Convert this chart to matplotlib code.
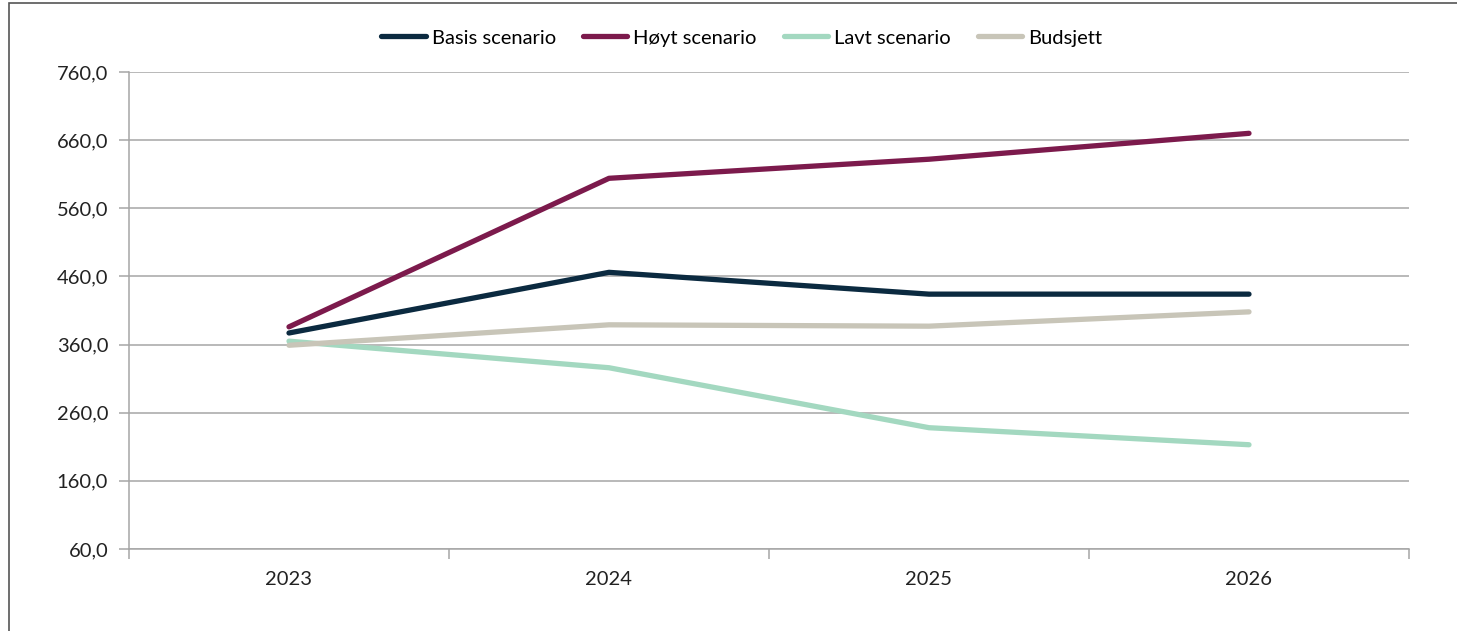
import matplotlib
matplotlib.use("Agg")
import matplotlib.pyplot as plt
from matplotlib.patches import Rectangle
import numpy as np

years = ["2023", "2024", "2025", "2026"]
basis = [377, 466, 434, 434]
hoyt = [386, 604, 632, 670]
lavt = [365, 326, 238, 213]
budsjett = [359, 389, 387, 408]

series = [
    ("Basis scenario", basis, "#0B2A40"),
    ("Høyt scenario", hoyt, "#7C1A4C"),
    ("Lavt scenario", lavt, "#A3D8C0"),
    ("Budsjett", budsjett, "#C8C5B8"),
]

yticks = [60, 160, 260, 360, 460, 560, 660, 760]

plt.rcParams['font.family'] = ['Lato', 'DejaVu Sans']
FS = 14.5

fig = plt.figure(figsize=(14.57, 6.31), dpi=100)
ax = fig.add_axes([129/1457, 1 - 549/631, 1280/1457, 477/631])

x = np.arange(len(years))
handles = []
for name, vals, col in series:
    h, = ax.plot(x, vals, color=col, lw=3.8, solid_capstyle='round', label=name)
    handles.append(h)

ax.set_xlim(-0.5, len(years) - 0.5)
ax.set_ylim(60, 760)
ax.set_yticks(yticks)
ax.set_yticklabels([f"{v:.1f}".replace(".", ",") for v in yticks], fontsize=FS, color="#222222")
ax.yaxis.grid(True, color="#A6A6A6", lw=1.1)
ax.set_axisbelow(True)

ax.set_xticks(np.arange(-0.5, len(years)), minor=False)
ax.set_xticklabels([])
ax.set_xticks(x, minor=True)
ax.set_xticklabels(years, minor=True, fontsize=FS, color="#222222")
ax.tick_params(axis='x', which='major', length=7, color="#A6A6A6", width=1.1)
ax.tick_params(axis='x', which='minor', length=0, pad=16)
ax.tick_params(axis='y', length=7, color="#A6A6A6", width=1.1, pad=8)

for s in ['top', 'right']:
    ax.spines[s].set_visible(False)
for s in ['left', 'bottom']:
    ax.spines[s].set_color("#A6A6A6")
    ax.spines[s].set_linewidth(1.1)

leg = fig.legend(handles=handles, loc='center', bbox_to_anchor=(742/1457, 1 - 38/631),
                 ncol=4, frameon=False, fontsize=FS, handlelength=2.2,
                 handletextpad=0.3, columnspacing=1.35)

fig.patches.append(Rectangle((9/1457, -0.1), 1.2, 1 - 3/631 + 0.1, transform=fig.transFigure,
                             fill=False, edgecolor="#555555", lw=1.2))

fig.savefig("out.png", dpi=100)
